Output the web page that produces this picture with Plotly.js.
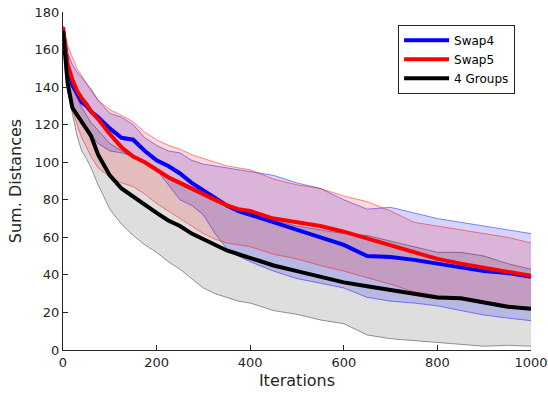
<!DOCTYPE html>
<html>
<head>
<meta charset="utf-8">
<script src="https://cdn.plot.ly/plotly-3.0.1.min.js"></script>
<style>html,body{margin:0;padding:0;background:#fff;}#chart{width:548px;height:398px;}</style>
</head>
<body>
<div id="chart"></div>
<script>
// Iterations (x values)
const iterations = [0,5,10,20,30,40,50,60,75,100,125,150,175,200,225,250,275,300,325,350,375,400,450,500,550,600,650,700,750,800,850,900,950,1000];

// Swap4 (blue)
const swap4Mean  = [170,160,150,141,136,132,130,127,124,118,113,112,106,101,98,94,89,85,81,77,74,72,68,64,60,56,50,49.5,48,46,43.5,42,41,39];
const swap4Upper = [171,165,158,152,148,145,142,139,133,126,124,120,113,109,106,105,101,99,98,97,96,95,93,89,86,80,75,76,73,70,68,66,64,62];
const swap4Lower = [169,150,140,131,126,121,117,114,110,106,105,103,100,96,88,80,77,72,62,54,50,47,42,38,35.6,33,28,26,25,23.5,21,18.6,17,15.6];

// Swap5 (red)
const swap5Mean  = [172,160,152,144,138,134,131,127,123,115,108,103,100,96,92,89,86,83,80,77,75,74,70,68,66,63,59.5,56,52,48.5,46,44,42,39.5];
const swap5Upper = [173,168,162,156,150,146,142,138,133,128,125,121.5,116,112,109,107,104,102,100,98,97,96,91,88,86,82,79,74,68,66,64,62,60,57];
const swap5Lower = [171,148,138,128,120,113,108,103,97,92,89,87,83,78,74,70,66,62,59,57,56,55,51,48.5,45,42,38.5,35,31,29,28,26,24,22];

// 4 Groups (black)
const groupsMean  = [170,155,142,129,125,121,118,114,104,93,86,81.5,77,73,69,66,62,59,56,53,51,49,45,42,39,36,34,32,30,28,27.5,25,23,22];
const groupsUpper = [171,160,150,140,134,129,125,121,117,110,106,103,99,95,91,88,85,82,79,77,75,72,69,66,64,62,61,58,55,52,52,50,46,43];
const groupsLower = [169,150,138,126,114,106,102,97,88,75,67,61,56,52,47,43,38,33,30,28,26,25,21,19,16,14,8,6,5,4.4,3,2,2.5,2];

function band(lower, upper, edge, fill) {
  return [
    {x: iterations, y: lower, mode: 'lines', line: {color: edge, width: 1}, showlegend: false, hoverinfo: 'skip'},
    {x: iterations, y: upper, mode: 'lines', line: {color: edge, width: 1}, fill: 'tonexty', fillcolor: fill, showlegend: false, hoverinfo: 'skip'}
  ];
}

const traces = [].concat(
  band(groupsLower, groupsUpper, 'rgba(80,80,80,0.6)', 'rgba(0,0,0,0.13)'),
  band(swap4Lower, swap4Upper, 'rgba(0,0,255,0.45)', 'rgba(0,0,255,0.17)'),
  band(swap5Lower, swap5Upper, 'rgba(255,0,0,0.45)', 'rgba(255,0,0,0.15)'),
  [
    {x: iterations, y: swap4Mean, mode: 'lines', name: 'Swap4', line: {color: '#0000ff', width: 4}},
    {x: iterations, y: swap5Mean, mode: 'lines', name: 'Swap5', line: {color: '#ff0000', width: 4}},
    {x: iterations, y: groupsMean, mode: 'lines', name: '4 Groups', line: {color: '#000000', width: 4}}
  ]
);

const axisFont = {family: 'DejaVu Sans', size: 13, color: '#262626'};
const layout = {
  width: 548, height: 398,
  margin: {l: 63, r: 17, t: 12, b: 48},
  paper_bgcolor: '#fff', plot_bgcolor: '#fff',
  font: {family: 'DejaVu Sans', color: '#262626'},
  xaxis: {
    range: [0, 1000], dtick: 200, tick0: 0,
    ticks: 'inside', ticklen: 5, tickcolor: '#262626',
    showline: true, linecolor: '#262626', linewidth: 1,
    showgrid: false, zeroline: false, tickfont: axisFont,
    title: {text: 'Iterations', font: {family: 'DejaVu Sans', size: 16, color: '#262626'}, standoff: 6}
  },
  yaxis: {
    range: [0, 180], dtick: 20, tick0: 0,
    ticks: 'inside', ticklen: 5, tickcolor: '#262626',
    showline: true, linecolor: '#262626', linewidth: 1,
    showgrid: false, zeroline: false, tickfont: axisFont,
    title: {text: 'Sum. Distances', font: {family: 'DejaVu Sans', size: 16, color: '#262626'}, standoff: 8}
  },
  legend: {
    x: 0.716, y: 0.962, xanchor: 'left', yanchor: 'top',
    traceorder: 'normal',
    bgcolor: '#fff', bordercolor: '#262626', borderwidth: 1,
    font: {family: 'DejaVu Sans', size: 12, color: '#000'},
    itemwidth: 45, tracegroupgap: 0
  },
  showlegend: true
};

Plotly.newPlot('chart', traces, layout, {displayModeBar: false, staticPlot: true});
</script>
</body>
</html>
